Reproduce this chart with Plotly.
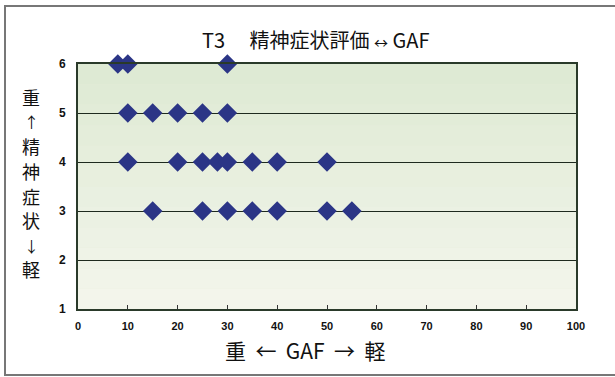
import plotly.graph_objects as go

# Data: GAF score (x) vs psychiatric symptom rating (y)
gaf_y6 = [8, 10, 30]
gaf_y5 = [10, 15, 20, 25, 30]
gaf_y4 = [10, 20, 25, 28, 30, 35, 40, 50]
gaf_y3 = [15, 25, 30, 35, 40, 50, 55]
symptom_levels = [6, 5, 4, 3]

x_ticks = [0, 10, 20, 30, 40, 50, 60, 70, 80, 90, 100]
y_ticks = [1, 2, 3, 4, 5, 6]

y_title_chars = ["重", "↑", "精", "神", "症", "状", "↓", "軽"]

xs, ys = [], []
for lvl, arr in zip(symptom_levels, [gaf_y6, gaf_y5, gaf_y4, gaf_y3]):
    xs += arr
    ys += [lvl] * len(arr)

fig = go.Figure()
fig.add_trace(go.Scatter(
    x=xs, y=ys, mode="markers",
    marker=dict(symbol="diamond", size=15, color="#2b3586",
                line=dict(width=0)),
    cliponaxis=False, showlegend=False,
))

L, R, T, B = 78, 39, 64, 68
W, H = 615, 377
pw, ph = W - L - R, H - T - B

fig.update_layout(
    width=W, height=H,
    margin=dict(l=L, r=R, t=T, b=B),
    paper_bgcolor="white",
    plot_bgcolor="#e8efdd",
    font=dict(family="Liberation Sans, Arial, sans-serif", color="#111"),
    xaxis=dict(range=[0, 100], tickvals=x_ticks, showgrid=False,
               zeroline=False, ticks="inside", ticklen=4, tickcolor="#333",
               tickfont=dict(size=11, family="Liberation Sans", weight="bold"),
               showline=True, linecolor="#2a3a2a", linewidth=2, mirror=True,
               ticklabelstandoff=6),
    yaxis=dict(range=[1, 6], tickvals=y_ticks, showgrid=True,
               gridcolor="#1e2a1e", gridwidth=1, zeroline=False,
               ticks="", tickfont=dict(size=12, family="Liberation Sans", weight="bold"),
               showline=True, linecolor="#2a3a2a", linewidth=2, mirror=True,
               ticklabelstandoff=8),
)

# soft vertical gradient in the plot background
top_rgb = (0xde, 0xea, 0xd4)
bot_rgb = (0xf3, 0xf5, 0xeb)
n = 12
for i in range(n):
    t = i / (n - 1)
    c = tuple(int(round(b + (a - b) * t)) for a, b in zip(top_rgb, bot_rgb))
    fig.add_shape(type="rect", xref="paper", yref="paper", x0=0, x1=1,
                  y0=i / n, y1=(i + 1) / n,
                  fillcolor="rgb(%d,%d,%d)" % c, line=dict(width=0), layer="below")

# outer frame
fig.add_shape(type="rect", xref="paper", yref="paper",
              x0=(5 - L) / pw, x1=(640 - L) / pw,
              y0=(H - B - 375) / ph, y1=(H - B - 6) / ph,
              line=dict(color="#777", width=2), fillcolor="rgba(0,0,0,0)")

fig.add_annotation(text="T3　 精神症状評価 <span style='font-size:14px'>↔</span> GAF", xref="paper", yref="paper",
                   x=(315 - L) / pw, y=(H - B - 40) / ph, showarrow=False,
                   xanchor="center", yanchor="middle",
                   font=dict(size=20, family="Noto Sans CJK JP", color="#111"))

char_px = [97, 122, 146, 171, 196, 220, 245, 269]
for ch, py in zip(y_title_chars, char_px):
    fig.add_annotation(text=ch, xref="paper", yref="paper",
                       x=(31 - L) / pw, y=(H - B - py) / ph, showarrow=False,
                       xanchor="center", yanchor="middle",
                       font=dict(size=18 if ch not in "↑↓" else 15,
                                 family="Noto Sans CJK JP", color="#111"))

fig.add_annotation(text="重  ←  GAF  →  軽", xref="paper", yref="paper",
                   x=(305 - L) / pw, y=(H - B - 350) / ph, showarrow=False,
                   xanchor="center", yanchor="middle",
                   font=dict(size=21, family="Noto Sans CJK JP", color="#111"))

fig.write_html("out.html", config={"displayModeBar": False},
               post_script="document.body.style.margin='0';")
